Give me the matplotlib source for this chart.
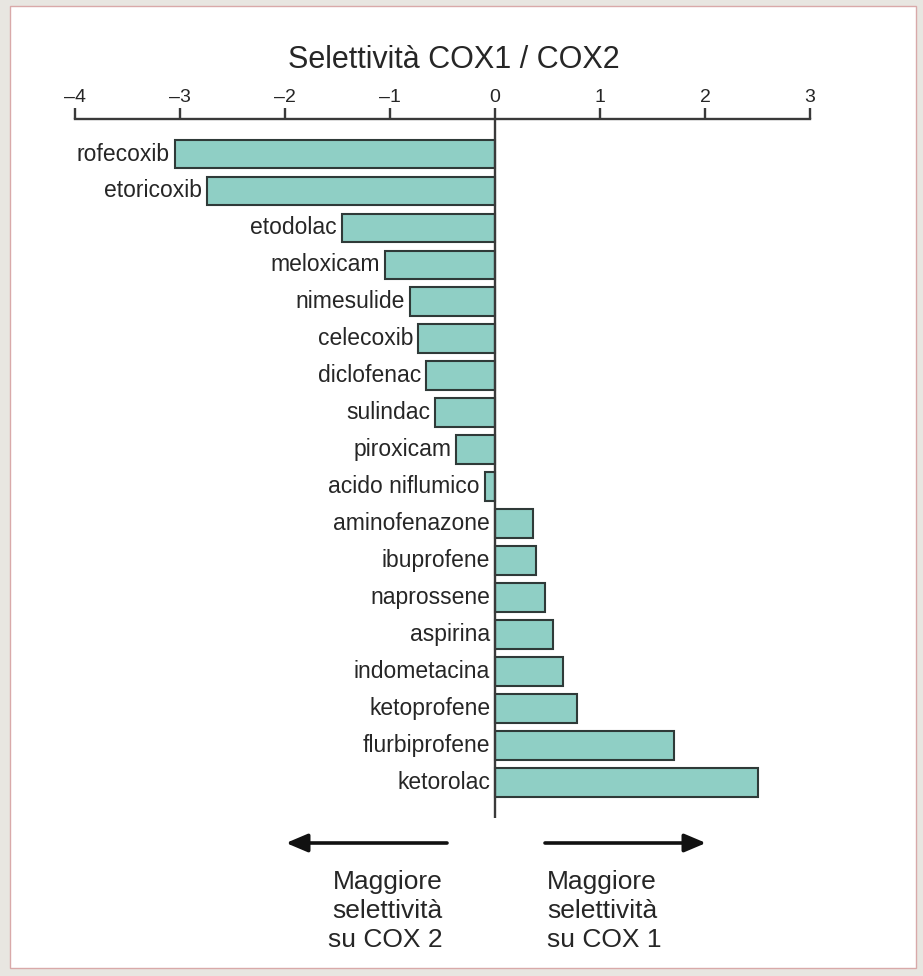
import matplotlib
matplotlib.use("Agg")
import matplotlib.pyplot as plt
from matplotlib.patches import Rectangle

drugs = ["rofecoxib", "etoricoxib", "etodolac", "meloxicam", "nimesulide",
         "celecoxib", "diclofenac", "sulindac", "piroxicam", "acido niflumico",
         "aminofenazone", "ibuprofene", "naprossene", "aspirina", "indometacina",
         "ketoprofene", "flurbiprofene", "ketorolac"]
values = [-3.05, -2.74, -1.46, -1.05, -0.81, -0.73, -0.66, -0.57, -0.37, -0.10,
          0.36, 0.39, 0.48, 0.55, 0.65, 0.78, 1.70, 2.50]
xticks = [-4, -3, -2, -1, 0, 1, 2, 3]
xtick_labels = ["\u20134", "\u20133", "\u20132", "\u20131", "0", "1", "2", "3"]
title = "Selettività COX1 / COX2"
left_note = "Maggiore\nselettività\nsu COX 2"
right_note = "Maggiore\nselettività\nsu COX 1"

W, H = 923, 976
TXT = "#262626"
plt.rcParams['font.family'] = ['Liberation Sans', 'DejaVu Sans']
fig = plt.figure(figsize=(W / 100, H / 100), dpi=100, facecolor="#e8e6e1")

def fx(px):
    return px / W

def fy(py):
    return 1 - py / H

# background panel
ax_bg = fig.add_axes([0, 0, 1, 1], zorder=-10)
ax_bg.set_xlim(0, W)
ax_bg.set_ylim(H, 0)
ax_bg.axis("off")
ax_bg.add_patch(Rectangle((10, 6), 906, 962, facecolor="white",
                          edgecolor="#d9a9a9", linewidth=1.0))

ax = fig.add_axes([fx(75), fy(818), fx(810) - fx(75), (818 - 119) / H], zorder=1)
ax.set_facecolor("none")
n = len(drugs)
ypos = list(range(n))
ax.barh(ypos, values, height=0.78, color="#8fcfc5", edgecolor="#2f3a38",
        linewidth=1.5, zorder=2)
ax.set_xlim(-4, 3)
ax.set_ylim(17.96, -0.947)
ax.axvline(0, color="#3a3a3a", linewidth=1.7, zorder=3)

for s in ["left", "right", "bottom"]:
    ax.spines[s].set_visible(False)
ax.spines["top"].set_color("#3a3a3a")
ax.spines["top"].set_linewidth(1.7)
ax.xaxis.set_ticks_position("top")
ax.set_xticks(xticks)
ax.set_xticklabels(xtick_labels, fontsize=14, color=TXT)
ax.tick_params(axis="x", direction="out", length=8, width=1.7, color="#3a3a3a",
               pad=1)
ax.set_yticks([])

for i, (d, v) in enumerate(zip(drugs, values)):
    ax.annotate(d, xy=(min(v, 0), i), xytext=(-3.5, 0),
                textcoords="offset points", ha="right", va="center",
                fontsize=16.5, color=TXT)

# overlay for title, arrows and notes
ax_a = fig.add_axes([0, 0, 1, 1], facecolor="none", zorder=5)
ax_a.set_xlim(0, W)
ax_a.set_ylim(H, 0)
ax_a.axis("off")

ax_a.text(454, 60, title, ha="center", va="center", fontsize=22, color=TXT)

arrow_kw = dict(arrowstyle="-|>,head_length=1.3,head_width=0.55", color="#111111",
                lw=2.6, shrinkA=0, shrinkB=0)
ax_a.annotate("", xy=(286, 843), xytext=(447, 843), arrowprops=arrow_kw)
ax_a.annotate("", xy=(706, 843), xytext=(545, 843), arrowprops=arrow_kw)

ax_a.text(443, 911, left_note, ha="right", va="center", fontsize=19,
          color=TXT, linespacing=1.27, multialignment="right")
ax_a.text(547, 911, right_note, ha="left", va="center", fontsize=19,
          color=TXT, linespacing=1.27, multialignment="left")

fig.savefig("out.png", dpi=100, facecolor=fig.get_facecolor())
